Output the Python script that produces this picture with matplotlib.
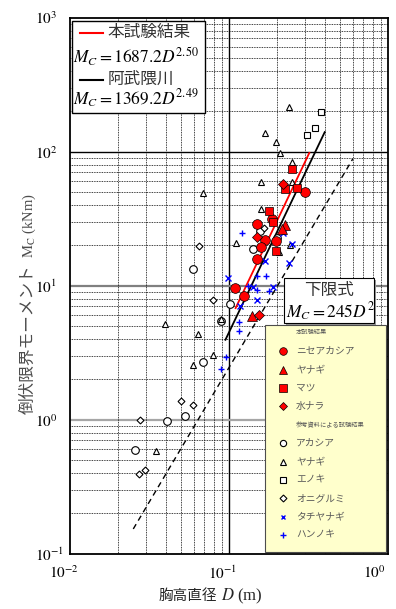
import numpy as np
import matplotlib.pyplot as plt
from matplotlib.patches import Rectangle
from matplotlib.ticker import NullFormatter, FuncFormatter
from matplotlib.transforms import ScaledTranslation, blended_transform_factory

plt.rcParams['font.family'] = ['Liberation Serif', 'Noto Sans CJK JP', 'DejaVu Sans']
plt.rcParams['mathtext.fontset'] = 'stix'

# 本試験結果 (D [m], Mc [kNm])
nisea_D = [0.2985, 0.1866, 0.149, 0.168, 0.1986, 0.160, 0.149, 0.1094, 0.124]
nisea_M = [50.0, 31.3, 28.9, 21.9, 21.7, 19.4, 15.7, 9.61, 8.42]
yanagi_D = [0.2239, 0.2153, 0.1386]
yanagi_M = [28.2, 26.4, 5.94]
matsu_D = [0.2488, 0.2239, 0.2687, 0.1796, 0.190, 0.1986]
matsu_M = [74.3, 52.7, 53.3, 36.3, 30.1, 18.3]
mizunara_D = [0.2184, 0.149, 0.154]
mizunara_M = [57.4, 23.0, 6.04]

# 参考資料による試験結果
akashia_D = [0.101, 0.0895, 0.069, 0.0528, 0.0406, 0.0258, 0.0596, 0.142, 0.156, 0.2004]
akashia_M = [7.30, 5.42, 2.68, 1.07, 0.98, 0.594, 13.3, 18.8, 25.6, 22.6]
ref_yanagi_D = [0.237, 0.1683, 0.1986, 0.2084, 0.2488, 0.158, 0.2488, 0.069, 0.158,
                0.110, 0.206, 0.2405, 0.0888, 0.0394, 0.0634, 0.0794, 0.0593, 0.0346]
ref_yanagi_M = [216.8, 137.1, 117.6, 98.3, 83.4, 59.1, 59.4, 49.2, 37.3,
                20.7, 17.8, 20.0, 5.61, 5.15, 4.34, 3.04, 2.55, 0.587]
enoki_D = [0.3794, 0.348, 0.3086]
enoki_M = [196.8, 150.3, 133.9]
onigurumi_D = [0.0796, 0.0499, 0.0596, 0.0277, 0.0271, 0.0297, 0.0643, 0.166]
onigurumi_M = [7.8, 1.39, 1.28, 0.99, 0.394, 0.422, 19.8, 27.1]
tachiyanagi_D = [0.099, 0.2184, 0.2488, 0.237, 0.1683, 0.1408, 0.189, 0.149, 0.117]
tachiyanagi_M = [11.4, 24.6, 20.5, 14.7, 15.2, 9.84, 9.7, 7.82, 7.06]
hannoki_D = [0.120, 0.150, 0.170, 0.1315, 0.150, 0.178, 0.1158, 0.1158, 0.0953, 0.0895]
hannoki_M = [24.6, 11.8, 11.8, 9.95, 9.35, 9.18, 5.39, 4.61, 2.95, 2.37]

# fitted lines (end points)
fit_this_D = [0.11, 0.32]
fit_this_M = [6.8, 98.0]
fit_abukuma_D = [0.095, 0.40]
fit_abukuma_M = [3.95, 140.0]
lower_D = [0.025, 0.60]
lower_M = [0.153, 88.2]

xticks = [0.01, 0.1, 1]
xtick_shift = [-6, -6, -14]   # px, labels sit a bit left of their grid line

fig = plt.figure(figsize=(3.96, 6.09), dpi=100)
ax = fig.add_axes([70 / 396, 1 - 553.7 / 609, 318 / 396, 536 / 609])
ax.set_xscale('log')
ax.set_yscale('log')
ax.set_xlim(0.01, 1)
ax.set_ylim(0.1, 1000)

ax.grid(which='minor', color='k', lw=0.6, ls=(0, (1, 1)), zorder=0)
ax.axvline(0.1, color='k', lw=1.0, zorder=0.5)
ax.axhline(100, color='k', lw=1.0, zorder=0.5)
ax.axhline(10, color='0.5', lw=1.6, zorder=0.5)
ax.axhline(1, color='0.65', lw=1.6, zorder=0.5)
for s in ax.spines.values():
    s.set_linewidth(1.3)

ax.tick_params(which='both', length=0, labelsize=11)
ax.yaxis.set_major_formatter(FuncFormatter(lambda v, p: r'$10^{%d}$' % round(np.log10(v))))
ax.tick_params(axis='y', pad=25)
for lbl in ax.get_yticklabels():
    lbl.set_ha('left')
ax.xaxis.set_major_formatter(NullFormatter())
bt = blended_transform_factory(ax.transData, ax.transAxes)
for v, dx in zip(xticks, xtick_shift):
    ax.text(v, -0.02, r'$10^{%d}$' % round(np.log10(v)), fontsize=11, ha='center', va='top',
            transform=bt + ScaledTranslation(dx / 100, 0, fig.dpi_scale_trans), clip_on=False)

# lines
ax.plot(lower_D, lower_M, color='k', lw=1.0, ls=(0, (4, 3)), zorder=2)
ax.plot(fit_abukuma_D, fit_abukuma_M, color='k', lw=1.3, zorder=2)
ax.plot(fit_this_D, fit_this_M, color='red', lw=1.3, zorder=2)

# reference data
open_kw = dict(ls='none', mfc='white', mec='k', mew=0.8, zorder=3)
ax.plot(akashia_D, akashia_M, marker='o', ms=5.5, **open_kw)
ax.plot(ref_yanagi_D, ref_yanagi_M, marker='^', ms=5, **open_kw)
ax.plot(enoki_D, enoki_M, marker='s', ms=5, **open_kw)
ax.plot(onigurumi_D, onigurumi_M, marker='D', ms=3.5, **open_kw)
ax.plot(tachiyanagi_D, tachiyanagi_M, marker='x', ms=4, ls='none', color='blue', mew=1.0, zorder=3)
ax.plot(hannoki_D, hannoki_M, marker='+', ms=5, ls='none', color='blue', mew=1.0, zorder=3)

# this study
red_kw = dict(ls='none', mfc='red', mec='k', mew=0.5, zorder=4)
ax.plot(nisea_D, nisea_M, marker='o', ms=7, **red_kw)
ax.plot(yanagi_D, yanagi_M, marker='^', ms=6.5, **red_kw)
ax.plot(matsu_D, matsu_M, marker='s', ms=6, **red_kw)
ax.plot(mizunara_D, mizunara_M, marker='D', ms=5, **red_kw)

T = ax.transAxes
# axis labels, split so the Japanese part keeps its font
lab = dict(transform=T, va='baseline', rotation_mode='anchor', clip_on=False)
ax.text(0.462, -0.0864, '胸高直径', ha='right', fontsize=10.5, color='0.15', **lab)
ax.text(0.462, -0.0864, r' $D$ (m)', ha='left', fontsize=12, color='0.15', **lab)
ax.text(-0.118, 0.540, '倒伏限界モーメント', ha='right', rotation=90, fontsize=12, color='0.3', **lab)
ax.text(-0.118, 0.552, r'$\mathrm{M_C}$ (kNm)', ha='left', rotation=90, fontsize=10.5, color='0.3', **lab)

# fit legend (top left)
ax.add_patch(Rectangle((0.006, 0.822), 0.419, 0.172, transform=T, fc='white', ec='k', lw=1.0, zorder=10))
ax.plot([0.031, 0.104], [0.9715, 0.9715], transform=T, color='red', lw=1.5, zorder=11)
ax.text(0.119, 0.9715, '本試験結果', transform=T, fontsize=12, va='center', color='0.2', zorder=11)
ax.text(0.0094, 0.927, r'$M_C = 1687.2D^{2.50}$', transform=T, fontsize=12.5, va='center', zorder=11)
ax.plot([0.031, 0.104], [0.884, 0.884], transform=T, color='k', lw=1.5, zorder=11)
ax.text(0.119, 0.884, '阿武隈川', transform=T, fontsize=12, va='center', color='0.2', zorder=11)
ax.text(0.0094, 0.848, r'$M_C = 1369.2D^{2.49}$', transform=T, fontsize=12.5, va='center', zorder=11)

# lower limit box
ax.add_patch(Rectangle((0.679, 0.426), 0.283, 0.084, transform=T, fc='0.6', ec='none', zorder=9))
ax.add_patch(Rectangle((0.673, 0.4304), 0.283, 0.084, transform=T, fc='white', ec='k', lw=0.8, zorder=10))
ax.text(0.8145, 0.490, '下限式', transform=T, fontsize=12, ha='center', va='center', color='0.2', zorder=11)
ax.text(0.679, 0.451, r'$M_C = 245D^2$', transform=T, fontsize=12.5, va='center', zorder=11)

# species legend
ax.add_patch(Rectangle((0.613, 0.003), 0.381, 0.424, transform=T, fc='#FFFFCC', ec='0.3', lw=0.8, zorder=10))
entries = [
    ('本試験結果', None, {}),
    ('ニセアカシア', 'o', dict(mfc='red', mec='k', mew=0.5, ms=5.5)),
    ('ヤナギ', '^', dict(mfc='red', mec='k', mew=0.5, ms=5.5)),
    ('マツ', 's', dict(mfc='red', mec='k', mew=0.5, ms=5.5)),
    ('水ナラ', 'D', dict(mfc='red', mec='k', mew=0.5, ms=4)),
    ('参考資料による試験結果', None, {}),
    ('アカシア', 'o', dict(mfc='white', mec='k', mew=0.8, ms=4.5)),
    ('ヤナギ', '^', dict(mfc='white', mec='k', mew=0.8, ms=4.5)),
    ('エノキ', 's', dict(mfc='white', mec='k', mew=0.8, ms=4.5)),
    ('オニグルミ', 'D', dict(mfc='white', mec='k', mew=0.8, ms=3.5)),
    ('タチヤナギ', 'x', dict(color='blue', mew=1.0, ms=3.5)),
    ('ハンノキ', '+', dict(color='blue', mew=1.0, ms=4.5)),
]
for i, (name, mk, kw) in enumerate(entries):
    y = 0.412 - i * 0.0343
    if mk is None:
        ax.text(0.711, y, name, transform=T, fontsize=4.5, va='center', color='0.35', zorder=11)
    else:
        ax.plot([0.670], [y], marker=mk, ls='none', transform=T, zorder=11, **kw)
        ax.text(0.711, y, name, transform=T, fontsize=7, va='center', color='0.35', zorder=11)

fig.savefig('out.png', dpi=100)
